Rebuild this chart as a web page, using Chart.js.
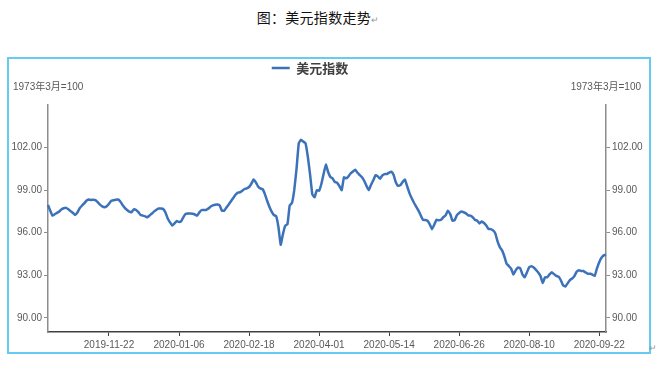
<!DOCTYPE html>
<html>
<head>
<meta charset="utf-8">
<script src="https://cdn.jsdelivr.net/npm/chart.js@4"></script>
<style>
    html, body { margin: 0; padding: 0; background: #fff; }
    body { width: 666px; height: 372px; position: relative; overflow: hidden; }
    .title {
        position: absolute; left: 0; top: 6px; width: 636px; text-align: center;
        font: 14px 'Noto Sans CJK SC', sans-serif; color: #111; line-height: 22px;
        letter-spacing: 0.3px;
    }
    .mark { font-size: 9px; color: #999; }
    .frame {
        position: absolute; left: 7px; top: 57px; width: 644px; height: 297px;
        box-sizing: border-box; border: 2.5px solid #66cbf3;
    }
    .end-mark { position: absolute; left: 649px; top: 343px; font-size: 9px; color: #999; }
    #chart { position: absolute; left: 0; top: 0; }
</style>
</head>
<body>
<div class="title">图：美元指数走势<span class="mark">↵</span></div>
<div class="frame"></div>
<div class="end-mark">↵</div>
<canvas id="chart" width="666" height="372"></canvas>
<script>
// US dollar index, one value per weekday starting at START_DATE
const START_DATE = '2019-10-16';
const SERIES_NAME = '美元指数';
const UNIT_LABEL = '1973年3月=100';
const DXY_VALUES = [
    97.95, 97.55, 97.2, 97.3, 97.4, 97.5, 97.65, 97.72, 97.75, 97.65,
    97.52, 97.4, 97.25, 97.42, 97.72, 97.9, 98.06, 98.25, 98.34, 98.3,
    98.33, 98.3, 98.15, 97.98, 97.86, 97.8, 97.87, 98.04, 98.25, 98.29,
    98.32, 98.34, 98.2, 97.95, 97.75, 97.6, 97.48, 97.45, 97.65, 97.6,
    97.45, 97.24, 97.2, 97.15, 97.08, 97.22, 97.35, 97.5, 97.62, 97.7,
    97.7, 97.67, 97.42, 97.0, 96.73, 96.5, 96.65, 96.82, 96.76, 96.82,
    97.12, 97.33, 97.35, 97.35, 97.33, 97.28, 97.2, 97.43, 97.6, 97.6,
    97.6, 97.7, 97.84, 97.92, 97.97, 97.98, 97.91, 97.55, 97.55, 97.78,
    97.99, 98.22, 98.45, 98.67, 98.82, 98.85, 98.96, 99.08, 99.13, 99.22,
    99.45, 99.75, 99.55, 99.26, 99.12, 99.07, 98.72, 98.25, 97.83, 97.48,
    97.24, 97.17, 96.4, 95.15, 95.9, 96.49, 96.6, 97.93, 98.1, 99.0,
    100.48, 102.3, 102.55, 102.42, 102.3, 101.37, 100.11, 98.7, 98.5, 99.0,
    98.96, 99.43, 100.15, 100.8, 100.28, 99.93, 99.82, 99.57, 99.52, 99.28,
    99.0, 99.9, 99.83, 99.97, 100.19, 100.32, 100.44, 100.22, 100.06, 99.9,
    99.64, 99.29, 99.0, 99.38, 99.7, 100.05, 99.97, 99.8, 100.04, 100.13,
    100.13, 100.24, 100.3, 100.06, 99.54, 99.3, 99.35, 99.58, 99.74, 99.27,
    98.79, 98.43, 98.11, 97.83, 97.55, 97.22, 96.9, 96.9, 96.84, 96.59,
    96.25, 96.57, 96.92, 96.87, 96.91, 97.09, 97.22, 97.55, 97.33, 96.85,
    96.88, 97.24, 97.39, 97.49, 97.44, 97.36, 97.22, 97.2, 97.09, 96.9,
    96.85, 96.65, 96.79, 96.68, 96.5, 96.26, 96.25, 96.16, 95.95, 95.38,
    94.98, 94.75, 94.34, 93.81, 93.65, 93.47, 93.05, 93.34, 93.54, 93.5,
    93.07, 92.85, 93.2, 93.57, 93.63, 93.54, 93.38, 93.2, 92.95, 92.45,
    92.86, 92.87, 93.06, 93.21, 93.08, 92.95, 92.9, 92.65, 92.3, 92.2,
    92.43, 92.66, 92.77, 92.94, 93.25, 93.36, 93.3, 93.3, 93.19, 93.1,
    93.1, 93.04, 92.95, 93.48, 93.92, 94.23, 94.4, 94.45
];
const X_TICK_LABELS = [
    '2019-11-22', '2020-01-06', '2020-02-18', '2020-04-01',
    '2020-05-14', '2020-06-26', '2020-08-10', '2020-09-22'
];
const Y_TICKS = [90, 93, 96, 99, 102];
const Y_MIN = 89;
const Y_MAX = 105;

const LINE_COLOR = '#3b72ba';
const TEXT_COLOR = '#595959';
const FONT_FAMILY = "'Liberation Sans', 'Noto Sans CJK SC', sans-serif";

// Weekday dates for the category axis
const buildWeekdayLabels = (start, count) => {
    const labels = [];
    const day = new Date(start + 'T00:00:00Z');
    while (labels.length < count) {
        const dow = day.getUTCDay();
        if (dow !== 0 && dow !== 6) {
            labels.push(day.toISOString().slice(0, 10));
        }
        day.setUTCDate(day.getUTCDate() + 1);
    }
    return labels;
};

const dateLabels = buildWeekdayLabels(START_DATE, DXY_VALUES.length);

const valueAxis = (position, width) => ({
    position,
    min: Y_MIN,
    max: Y_MAX,
    afterBuildTicks: (scale) => {
        scale.ticks = Y_TICKS.map((value) => ({ value }));
    },
    afterFit: (scale) => {
        scale.width = width;
    },
    grid: { drawOnChartArea: false, tickLength: 4, color: '#8c8c8c', lineWidth: 1 },
    border: { color: '#8c8c8c', width: 1.5 },
    ticks: {
        padding: 2,
        color: TEXT_COLOR,
        font: { family: FONT_FAMILY, size: 10 },
        callback: (value) => Number(value).toFixed(2),
    },
});

// Unit captions above both value axes, legend moved to where the reference has it
const chartExtras = {
    id: 'chartExtras',
    afterLayout: (chart) => {
        const legend = chart.legend;
        const targetTop = 68 - 6.5 - 10;
        const dy = targetTop - legend.top;
        legend.top += dy;
        legend.bottom += dy;
        legend.left -= 18;
        legend.right -= 18;
    },
    afterDraw: (chart) => {
        const { ctx } = chart;
        ctx.save();
        ctx.font = `10px ${FONT_FAMILY}`;
        ctx.fillStyle = TEXT_COLOR;
        ctx.textBaseline = 'middle';
        ctx.textAlign = 'left';
        ctx.fillText(UNIT_LABEL, 13, 87);
        ctx.textAlign = 'right';
        ctx.fillText(UNIT_LABEL, 641, 87);
        ctx.restore();
    },
};

new Chart(document.getElementById('chart'), {
    type: 'line',
    data: {
        labels: dateLabels,
        datasets: [
            {
                label: SERIES_NAME,
                data: DXY_VALUES,
                borderColor: LINE_COLOR,
                backgroundColor: LINE_COLOR,
                borderWidth: 2.5,
                pointRadius: 0,
                tension: 0.1,
                yAxisID: 'y',
            },
        ],
    },
    options: {
        responsive: false,
        animation: false,
        layout: { padding: { left: 10, right: 20, top: 72, bottom: 20 } },
        plugins: {
            tooltip: { enabled: false },
            legend: {
                position: 'top',
                labels: {
                    boxWidth: 18,
                    boxHeight: 0,
                    padding: 10,
                    color: '#404040',
                    font: { family: "'Noto Sans CJK SC', sans-serif", size: 13, weight: 'bold' },
                },
            },
        },
        scales: {
            x: {
                type: 'category',
                offset: false,
                afterBuildTicks: (scale) => {
                    scale.ticks = scale.ticks.filter((tick) => X_TICK_LABELS.includes(dateLabels[tick.value]));
                },
                afterFit: (scale) => {
                    scale.height = 20;
                },
                grid: { drawOnChartArea: false, tickLength: 4, color: '#404040', lineWidth: 1 },
                border: { color: '#404040', width: 1.5 },
                ticks: {
                    autoSkip: false,
                    maxRotation: 0,
                    padding: 3,
                    color: TEXT_COLOR,
                    font: { family: FONT_FAMILY, size: 10 },
                },
            },
            y: valueAxis('left', 38),
            y1: valueAxis('right', 40),
        },
    },
    plugins: [chartExtras],
});
</script>
</body>
</html>
